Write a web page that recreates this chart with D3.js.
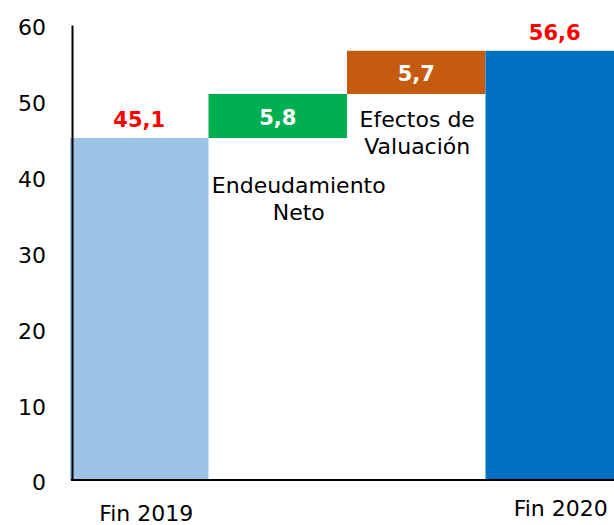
<!DOCTYPE html>
<html>
<head>
<meta charset="utf-8">
<script src="https://cdn.jsdelivr.net/npm/d3@7"></script>
<style>
  body { margin: 0; background: #fff; }
  svg { display: block; font-family: "DejaVu Sans", sans-serif; }
</style>
</head>
<body>
<svg id="chart"></svg>
<script>
const categories = ['Fin 2019', 'Endeudamiento Neto', 'Efectos de Valuación', 'Fin 2020'];
const values = [45.1, 5.8, 5.7, 56.6];
const kinds = ['total', 'delta', 'delta', 'total'];
const valueLabels = ['45,1', '5,8', '5,7', '56,6'];
const colors = ['#9dc3e6', '#00b050', '#c55a11', '#0070c0'];
const yTicks = [0, 10, 20, 30, 40, 50, 60];

const W = 614, H = 525;
const svg = d3.select('#chart').attr('width', W).attr('height', H);

const x = d3.scaleBand().domain(categories).range([70, 624]).padding(0);
const y = d3.scaleLinear().domain([0, 60]).range([480, 25]);

// running base for waterfall steps
let run = 0;
const bars = categories.map((c, i) => {
  let lo, hi;
  if (kinds[i] === 'total') { lo = 0; hi = values[i]; run = values[i]; }
  else { lo = run; hi = run + values[i]; run = hi; }
  return { cat: c, lo, hi, color: colors[i], label: valueLabels[i], kind: kinds[i] };
});

svg.selectAll('rect.bar')
  .data(bars)
  .enter().append('rect')
  .attr('class', 'bar')
  .attr('x', d => x(d.cat))
  .attr('width', x.bandwidth())
  .attr('y', d => y(d.hi))
  .attr('height', d => y(d.lo) - y(d.hi))
  .attr('fill', d => d.color);

// y axis
const yAxis = svg.append('g')
  .attr('transform', 'translate(72,0)')
  .call(d3.axisLeft(y).tickValues(yTicks).tickSize(0).tickSizeOuter(0).tickPadding(26));
yAxis.select('.domain').attr('stroke', '#000').attr('stroke-width', 2);
yAxis.selectAll('text')
  .attr('font-family', '"DejaVu Sans", sans-serif')
  .attr('font-size', 22)
  .attr('fill', '#000')
  .attr('dy', '0.45em');

// baseline
svg.append('line')
  .attr('x1', 71).attr('x2', W)
  .attr('y1', y(0)).attr('y2', y(0))
  .attr('stroke', '#000').attr('stroke-width', 2);

// value labels
svg.selectAll('text.val')
  .data(bars)
  .enter().append('text')
  .attr('class', 'val')
  .attr('x', d => x(d.cat) + x.bandwidth() / 2)
  .attr('y', d => d.kind === 'total' ? y(d.hi) - 11 : (y(d.hi) + y(d.lo)) / 2 + 9)
  .attr('text-anchor', 'middle')
  .attr('font-size', 21)
  .attr('font-weight', 'bold')
  .attr('fill', d => d.kind === 'total' ? '#ff0000' : '#fff')
  .text(d => d.label);

// step labels below the floating bars
const stepLabels = [
  { cat: 'Endeudamiento Neto', lines: ['Endeudamiento', 'Neto'], dx: 21, y0: 193 },
  { cat: 'Efectos de Valuación', lines: ['Efectos de', 'Valuación'], dx: 1, y0: 127 }
];
stepLabels.forEach(s => {
  const t = svg.append('text')
    .attr('text-anchor', 'middle')
    .attr('font-size', 22)
    .attr('fill', '#000');
  s.lines.forEach((ln, k) => {
    t.append('tspan')
      .attr('x', x(s.cat) + x.bandwidth() / 2 + s.dx)
      .attr('y', s.y0 + k * 27)
      .text(ln);
  });
});

// category labels at the bottom
const bottomLabels = [
  { cat: 'Fin 2019', dx: 7, y: 521 },
  { cat: 'Fin 2020', dx: 6, y: 516 }
];
svg.selectAll('text.cat')
  .data(bottomLabels)
  .enter().append('text')
  .attr('class', 'cat')
  .attr('x', d => x(d.cat) + x.bandwidth() / 2 + d.dx)
  .attr('y', d => d.y)
  .attr('text-anchor', 'middle')
  .attr('font-size', 22)
  .attr('fill', '#000')
  .text(d => d.cat);
</script>
</body>
</html>
